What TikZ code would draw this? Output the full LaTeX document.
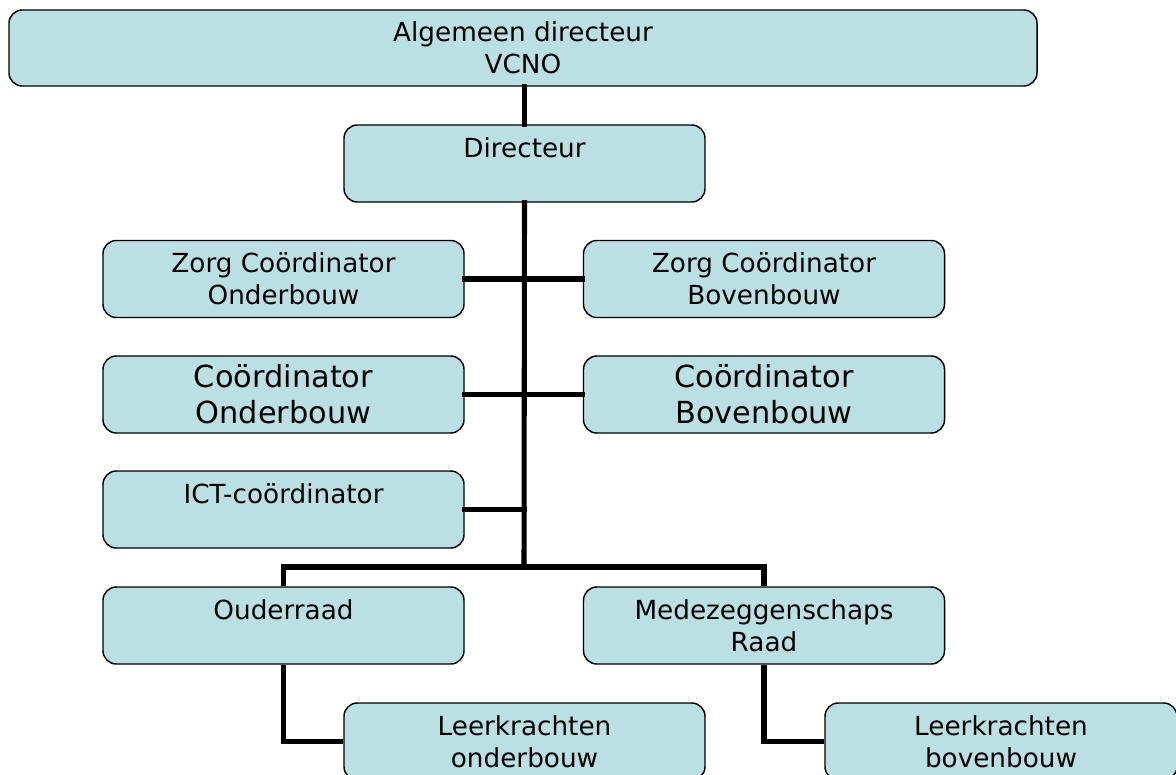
\documentclass[tikz,border=0pt]{standalone}
\usepackage{fontspec}
\setmainfont{DejaVu Sans}
\usetikzlibrary{calc}
\definecolor{boxfill}{HTML}{BBE0E3}
\tikzset{
	orgbox/.style={draw=black, line width=1.1pt, fill=boxfill, rounded corners=10pt,
		minimum width=270.75pt, minimum height=57.75pt, align=center, inner sep=0pt,
		font=\fontsize{19.7}{24}\selectfont},
	bigtext/.style={font=\fontsize{22.8}{27}\selectfont},
	link/.style={line width=3.8pt, line cap=rect}
}

\begin{document}
\begin{tikzpicture}[x=0.75pt, y=-0.75pt]
		%%%%% START %%%%%
		\clip (0, 0) rectangle (1176, 774);
		
		\node[orgbox, minimum width=771pt, minimum height=57pt] (alg) at (523, 48) {Algemeen directeur\\VCNO};
		\node[orgbox] (dir) at (524.5, 163.5) {Directeur\\\mbox{}};
		
		\node[orgbox] (zorgon) at (283.5, 279) {Zorg Coördinator\\Onderbouw};
		\node[orgbox] (zorgbo) at (764, 279) {Zorg Coördinator\\Bovenbouw};
		
		\node[orgbox, bigtext] (coordon) at (283.5, 394.5) {Coördinator\\Onderbouw};
		\node[orgbox, bigtext] (coordbo) at (764, 394.5) {Coördinator\\Bovenbouw};
		
		\node[orgbox] (ict) at (283.5, 509.5) {ICT-coördinator\\\mbox{}};
		
		\node[orgbox] (ouder) at (283.5, 625.5) {Ouderraad\\\mbox{}};
		\node[orgbox] (mr) at (764, 625.5) {Medezeggenschaps\\Raad};
		
		\node[orgbox] (leeron) at (524.5, 741.5) {Leerkrachten\\onderbouw};
		\node[orgbox, minimum width=264pt] (leerbo) at (1001, 741.5) {Leerkrachten\\bovenbouw};
		
		\coordinate (split) at (524, 567);
		
		\draw[link] (alg.south -| dir.north) -- (dir.north);
		\draw[link] (dir.south) -- (split);
		\draw[link] (zorgon.east) -- (zorgbo.west);
		\draw[link] (coordon.east) -- (coordbo.west);
		\draw[link] (ict.east) -- (ict.east -| split);
		\draw[link, line cap=butt] (ouder.north) |- (split) -| (mr.north);
		\draw[link, line cap=butt] (ouder.south) |- (leeron.west);
		\draw[link, line cap=butt] (mr.south) |- (leerbo.west);
		
		%%%%% END %%%%%
\end{tikzpicture}
\end{document}
